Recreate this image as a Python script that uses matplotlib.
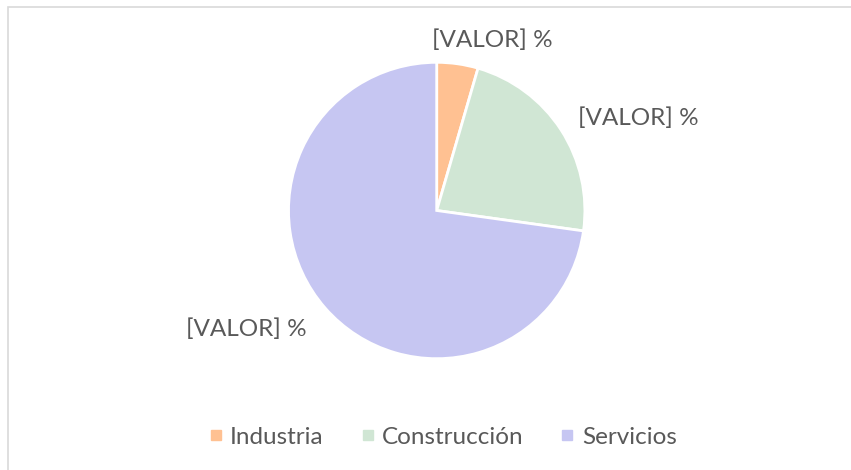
import matplotlib
matplotlib.use("Agg")
import matplotlib.pyplot as plt
from matplotlib.lines import Line2D
from matplotlib.patches import Rectangle
import numpy as np

# data
sectors = ["Industria", "Construcción", "Servicios"]
shares = [4.5, 22.7, 72.8]
labels = ["[VALOR] %", "[VALOR] %", "[VALOR] %"]
colors = ["#FFC192", "#D0E6D4", "#C6C6F2"]

W, H = 851, 470
fig = plt.figure(figsize=(W / 100, H / 100), dpi=100)
fig.patch.set_facecolor("white")
plt.rcParams["font.family"] = ["Lato", "DejaVu Sans"]
txt_color = "#595959"

# chart area border (cut at right and bottom)
fig.patches.append(Rectangle((8 / W, -0.1), 1.2, 1 - 7 / H + 0.1,
                             transform=fig.transFigure, fill=False,
                             edgecolor="#D9D9D9", linewidth=1.2))

# pie axes: center (436.7, 210 from top), radius 146 px
r = 146
span = 1.6
side = 2 * span * r
cx, cy = 436.7, H - 210.5
ax = fig.add_axes([(cx - side / 2) / W, (cy - side / 2) / H, side / W, side / H])

wedges, _ = ax.pie(shares, colors=colors, startangle=90, counterclock=False,
                   radius=1.015, wedgeprops=dict(edgecolor="white", linewidth=2))
ax.set_xlim(-span, span)
ax.set_ylim(-span, span)
ax.set_aspect("equal")
ax.axis("off")

# label placement (angle in degrees, distance in radii)
label_pos = [(72, 1.225), (24.7, 1.52), (212, 1.54)]
for lab, (ang, dist) in zip(labels, label_pos):
    a = np.deg2rad(ang)
    ax.text(dist * np.cos(a), dist * np.sin(a), lab, ha="center", va="center",
            fontsize=17.5, color=txt_color, clip_on=False)

handles = [Line2D([], [], marker="s", linestyle="none", markersize=7,
                  markerfacecolor=c, markeredgecolor=c) for c in colors]
fig.legend(handles, sectors, loc="center", bbox_to_anchor=(442 / W, 1 - 437 / H),
           ncol=3, frameon=False, fontsize=17.5, labelcolor=txt_color,
           handletextpad=0.25, columnspacing=1.45, handlelength=0.7)

fig.savefig("out.png", dpi=100)
